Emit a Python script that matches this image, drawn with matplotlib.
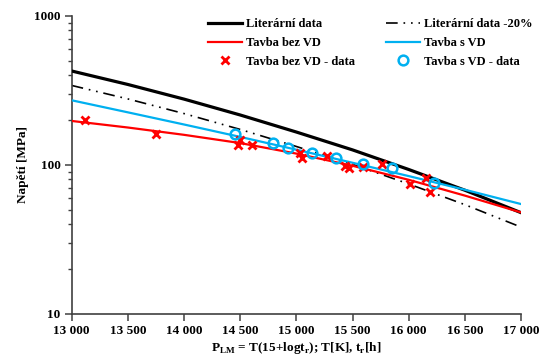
import numpy as np
import matplotlib.pyplot as plt
from matplotlib.ticker import FixedLocator, FuncFormatter, LogLocator, NullFormatter

plt.rcParams['font.family'] = ['Liberation Serif', 'DejaVu Serif']
plt.rcParams['font.weight'] = 'bold'
plt.rcParams['mathtext.fontset'] = 'custom'
plt.rcParams['mathtext.rm'] = 'Liberation Serif:bold'
plt.rcParams['mathtext.bf'] = 'Liberation Serif:bold'

# Larson-Miller parametr a napeti pro krivky
p_krivka = [13000, 13500, 14000, 14500, 15000, 15500, 16000, 16500, 17000]
lit_data = [426, 346, 276, 216, 166, 126, 93.1, 67.6, 47.8]
bez_vd = [197, 178, 159, 140, 119, 98.6, 79.4, 62.2, 48.0]
s_vd = [271, 225, 186.5, 154, 126.4, 103.3, 84.1, 68.1, 54.6]

# namerene body
p_bez_vd = [13118, 13750, 14480, 14500, 14602, 15032, 15053, 15270, 15433, 15465,
            15596, 15760, 16012, 16154, 16194]
sig_bez_vd = [199, 161, 135, 147, 136, 120, 111, 114, 99, 96, 97.4, 101, 74.6, 81.5, 65.4]

p_s_vd = [14454, 14789, 14926, 15142, 15357, 15596, 15849, 16228]
sig_s_vd = [161, 140, 129, 120, 111, 101, 96, 75.4]

lit_20 = [0.8 * s for s in lit_data]

fig = plt.figure(figsize=(5.45, 3.58), dpi=100)
ax = fig.add_axes([0.1316, 0.123, 0.8244, 0.833])

ax.plot(p_krivka, lit_data, color='black', lw=2.3, label='Literární data', zorder=3)
ax.plot(p_krivka, bez_vd, color='#ff0000', lw=1.6, label='Tavba bez VD', zorder=3)
ax.plot(p_bez_vd, sig_bez_vd, ls='none', marker='x', ms=6, mew=2, color='#ff0000',
        label='Tavba bez VD - data', zorder=4)
ax.plot(p_krivka, lit_20, color='black', lw=1.2, ls=(0, (7, 3.5, 1, 3.5, 1, 3.5)),
        label='Literární data -20%', zorder=2)
ax.plot(p_krivka, s_vd, color='#00b0f0', lw=1.6, label='Tavba s VD', zorder=3)
ax.plot(p_s_vd, sig_s_vd, ls='none', marker='o', ms=7, mew=1.8, mfc='none', color='#00b0f0',
        label='Tavba s VD - data', zorder=5)

ax.set_yscale('log')
ax.set_xlim(13000, 17000)
ax.set_ylim(10, 1000)
ax.xaxis.set_major_locator(FixedLocator(np.arange(13000, 17001, 500)))
ax.xaxis.set_major_formatter(FuncFormatter(lambda v, pos: f'{int(v):,}'.replace(',', ' ')))
ax.yaxis.set_major_locator(FixedLocator([10, 100, 1000]))
ax.yaxis.set_major_formatter(FuncFormatter(lambda v, pos: f'{int(v)}'))
ax.yaxis.set_minor_locator(LogLocator(base=10, subs=np.arange(2, 10)))
ax.yaxis.set_minor_formatter(NullFormatter())

for s in ['top', 'right']:
    ax.spines[s].set_visible(False)
for s in ['left', 'bottom']:
    ax.spines[s].set_color('#404040')
    ax.spines[s].set_linewidth(1.2)
ax.tick_params(which='major', direction='out', length=5, width=1.1, color='#404040',
               labelsize=9.5, pad=3)
ax.tick_params(which='minor', direction='out', length=3, width=1.0, color='#404040')

ax.set_ylabel('Napětí [MPa]', fontsize=9.5, fontweight='bold', labelpad=3.5)
ax.set_xlabel(r'P$_{\mathrm{LM}}$ = T(15+logt$_{\mathrm{r}}$); T[K], t$_{\mathrm{r}}$[h]',
              fontsize=9.5, fontweight='bold', labelpad=2)

leg = ax.legend(ncol=2, loc='upper right', bbox_to_anchor=(1.05, 1.03), frameon=False,
                fontsize=9, handlelength=2.7, handletextpad=0.3, columnspacing=2.5,
                labelspacing=0.55)

fig.savefig('out.png', dpi=100)
